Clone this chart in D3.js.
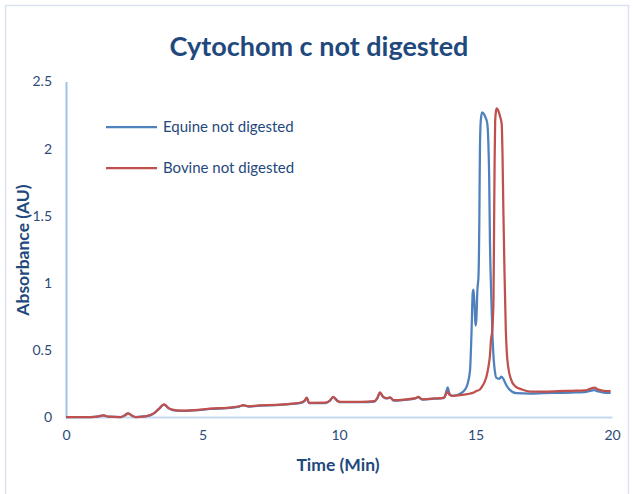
<!DOCTYPE html>
<html>
<head>
<meta charset="utf-8">
<script src="https://cdn.jsdelivr.net/npm/d3@7"></script>
<style>
  html, body { margin: 0; padding: 0; background: #ffffff; }
  svg { display: block; font-family: Lato, "Open Sans", sans-serif; }
</style>
</head>
<body>
<svg id="chart" width="633" height="494"></svg>
<script>
const chartTitle = "Cytochom c not digested";
const xAxisTitle = "Time (Min)";
const yAxisTitle = "Absorbance (AU)";
const seriesNames = ["Equine not digested", "Bovine not digested"];
const xTicks = [0, 5, 10, 15, 20];
const yTicks = [0, 0.5, 1, 1.5, 2, 2.5];

const equineTime = [0,0.9,1.2,1.37,1.55,2.0,2.15,2.28,2.42,2.55,2.95,3.2,3.4,3.59,3.75,3.9,4.2,4.7,5.3,6.1,6.35,6.5,6.7,7.1,7.7,8.3,8.6,8.75,8.82,8.9,9.5,9.65,9.79,9.95,10.1,10.8,11.3,11.4,11.5,11.62,11.75,11.87,12.0,12.4,12.8,12.9,13.05,13.5,13.85,13.93,13.98,14.05,14.15,14.3,14.45,14.6,14.7,14.8,14.85,14.9,14.93,14.97,15.0,15.03,15.07,15.11,15.14,15.16,15.19,15.24,15.3,15.37,15.43,15.47,15.5,15.53,15.57,15.62,15.67,15.71,15.77,15.87,15.95,16.03,16.12,16.22,16.33,16.5,17,17.5,18,18.5,19,19.2,19.35,19.5,19.7,19.95];
const equineAbs = [0,0,0.005,0.012,0.003,0,0.012,0.027,0.01,0,0.006,0.024,0.058,0.093,0.066,0.052,0.046,0.05,0.06,0.07,0.078,0.086,0.078,0.085,0.088,0.098,0.105,0.122,0.142,0.103,0.104,0.118,0.148,0.118,0.11,0.11,0.115,0.138,0.18,0.148,0.138,0.144,0.122,0.128,0.138,0.148,0.13,0.136,0.143,0.19,0.22,0.172,0.158,0.162,0.175,0.2,0.24,0.35,0.6,0.93,0.95,0.8,0.68,0.72,0.95,1.05,1.45,1.95,2.2,2.27,2.26,2.23,2.19,2.05,1.8,1.3,0.95,0.62,0.42,0.34,0.29,0.285,0.3,0.28,0.24,0.21,0.19,0.177,0.175,0.178,0.18,0.182,0.186,0.195,0.2,0.19,0.182,0.18];

const bovineTime = [0,0.9,1.2,1.37,1.55,2.0,2.15,2.28,2.42,2.55,2.95,3.2,3.4,3.59,3.75,3.9,4.2,4.7,5.3,6.1,6.35,6.5,6.7,7.1,7.7,8.3,8.6,8.75,8.82,8.9,9.5,9.65,9.79,9.95,10.1,10.8,11.3,11.4,11.5,11.62,11.75,11.87,12.0,12.4,12.8,12.9,13.05,13.5,13.85,13.93,13.98,14.05,14.15,14.4,14.7,14.9,15.05,15.16,15.25,15.33,15.4,15.47,15.53,15.57,15.6,15.63,15.66,15.68,15.7,15.72,15.75,15.78,15.84,15.9,15.96,15.99,16.02,16.06,16.11,16.15,16.2,16.3,16.45,16.7,17,17.5,18,18.5,19,19.2,19.35,19.5,19.7,19.95];
const bovineAbs = [0,0,0.005,0.012,0.003,0,0.012,0.027,0.01,0,0.007,0.025,0.06,0.095,0.068,0.055,0.048,0.052,0.062,0.072,0.08,0.088,0.08,0.087,0.09,0.1,0.108,0.125,0.145,0.106,0.107,0.12,0.15,0.12,0.112,0.112,0.118,0.14,0.184,0.15,0.14,0.146,0.125,0.13,0.14,0.15,0.132,0.138,0.145,0.175,0.19,0.165,0.158,0.162,0.17,0.18,0.195,0.205,0.23,0.26,0.3,0.37,0.46,0.58,0.62,0.7,0.9,1.4,1.9,2.2,2.28,2.3,2.28,2.24,2.18,1.95,1.55,1.1,0.65,0.47,0.37,0.28,0.23,0.205,0.19,0.19,0.192,0.195,0.198,0.21,0.218,0.205,0.195,0.192];

const colors = ["#4F81BD", "#C0504D"];
const textColor = "#1F497D";
const tickColor = "#2E4A78";
const fontStack = "Lato, 'Open Sans', sans-serif";

const svg = d3.select("#chart");
const W = 633, H = 494;
const margin = {left: 66, right: 21, top: 81.5, bottom: 77};

const x = d3.scaleLinear().domain([0, 20]).range([margin.left, W - margin.right]);
const y = d3.scaleLinear().domain([0, 2.5]).range([H - margin.bottom, margin.top]);

// outer border
svg.append("rect")
  .attr("x", 5.5).attr("y", 5.5)
  .attr("width", 623).attr("height", 520)
  .attr("fill", "none").attr("stroke", "#D9E2F0").attr("stroke-width", 1.5);

// title
svg.append("text")
  .attr("x", 319).attr("y", 56)
  .attr("text-anchor", "middle")
  .attr("font-size", 27).attr("font-weight", "bold")
  .attr("fill", textColor)
  .text(chartTitle);

// axes
const xAxis = d3.axisBottom(x).tickValues(xTicks).tickSize(0).tickPadding(13).tickFormat(d3.format("d"));
const gx = svg.append("g").attr("transform", `translate(0,${y(0)})`).call(xAxis);
gx.select(".domain").attr("stroke", "#C6D9F1").attr("stroke-width", 2);
gx.selectAll("text").attr("font-size", 14).attr("fill", tickColor).attr("font-family", fontStack);

const yAxis = d3.axisLeft(y).tickValues(yTicks).tickSize(0).tickPadding(14).tickFormat(d => String(d));
const gy = svg.append("g").attr("transform", `translate(${x(0)},0)`).call(yAxis);
gy.select(".domain").attr("stroke", "#9DC3E6").attr("stroke-width", 2);
gy.selectAll("text").attr("font-size", 14).attr("fill", tickColor).attr("font-family", fontStack);

// axis titles
svg.append("text")
  .attr("x", 338).attr("y", 471)
  .attr("text-anchor", "middle")
  .attr("font-size", 17.5).attr("font-weight", "bold")
  .attr("fill", textColor)
  .text(xAxisTitle);
svg.append("text")
  .attr("transform", "translate(29,250) rotate(-90)")
  .attr("text-anchor", "middle")
  .attr("font-size", 17.5).attr("font-weight", "bold")
  .attr("fill", textColor)
  .text(yAxisTitle);

// lines
const line = d3.line().x(d => x(d[0])).y(d => y(d[1])).curve(d3.curveMonotoneX);
const seriesData = [
  d3.zip(equineTime, equineAbs),
  d3.zip(bovineTime, bovineAbs)
];
seriesData.forEach((data, i) => {
  svg.append("path")
    .datum(data)
    .attr("fill", "none")
    .attr("stroke", colors[i])
    .attr("stroke-width", 2.25)
    .attr("stroke-linejoin", "round")
    .attr("d", line);
});

// legend
const legendY = [127, 168];
seriesNames.forEach((name, i) => {
  svg.append("line")
    .attr("x1", 106).attr("x2", 157)
    .attr("y1", legendY[i]).attr("y2", legendY[i])
    .attr("stroke", colors[i]).attr("stroke-width", 2.25);
  svg.append("text")
    .attr("x", 163).attr("y", legendY[i] + 5)
    .attr("font-size", 15)
    .attr("fill", textColor)
    .text(name);
});
</script>
</body>
</html>
